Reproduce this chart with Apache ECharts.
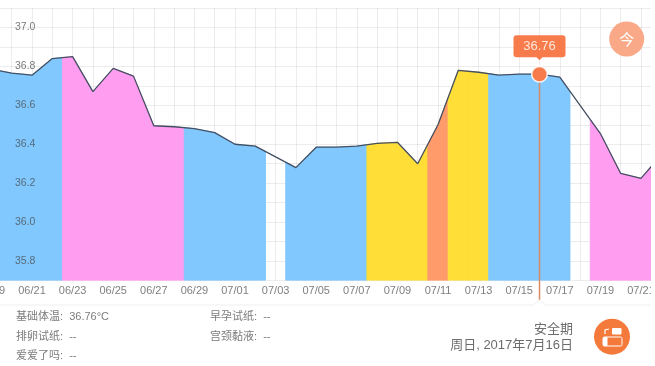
<!DOCTYPE html>
<html><head><meta charset="utf-8">
<script src="https://cdn.jsdelivr.net/npm/echarts@6/dist/echarts.min.js"></script>
<style>html,body{margin:0;padding:0;background:#fff;overflow:hidden}#c{width:651px;height:366px;overflow:hidden}</style>
</head><body><div id="c"></div>
<script>
const dates = ['06/19','06/20','06/21','06/22','06/23','06/24','06/25','06/26','06/27','06/28','06/29','06/30','07/01','07/02','07/03','07/04','07/05','07/06','07/07','07/08','07/09','07/10','07/11','07/12','07/13','07/14','07/15','07/16','07/17','07/18','07/19','07/20','07/21','07/22'];
const temps = [36.786,36.765,36.755,36.84,36.85,36.67,36.79,36.75,36.495,36.49,36.48,36.46,36.40,36.39,36.335,36.28,36.385,36.385,36.39,36.405,36.41,36.30,36.50,36.78,36.77,36.755,36.76,36.76,36.745,36.60,36.455,36.25,36.225,36.345];
const phases = ['b','b','b','b','p','p','p','p','p','p','b','b','b','b','n','b','b','b','b','y','y','y','o','y','y','b','b','b','b','n','p','p','p','p'];
const phaseColors = {b:'#80c8fe',p:'#ff9df0',y:'#ffde38',o:'#ff9a6b'};
const yTickLabels = ['35.8','36.0','36.2','36.4','36.6','36.8','37.0'];
const selectedIndex = 27;
const FONT = '"Liberation Sans","Noto Sans CJK SC",sans-serif';
const ORANGE = '#f87c4b';

const chart = echarts.init(document.getElementById('c'));
const bandData = dates.map((d,i)=>[i,temps[i],phases[i]]).filter(r=>r[2]!=='n');

function txt(x,y,text,opt){
  return {type:'text',x:x,y:y,silent:true,z:20,style:Object.assign({text:text,font:'11px '+FONT,fill:'#7c7c7c',textAlign:'left',textVerticalAlign:'middle'},opt||{})};
}

chart.setOption({
  animation:false,
  backgroundColor:'#fff',
  grid:{left:-8.6,width:669.9,top:8,height:272.5,containLabel:false,outerBoundsMode:'none'},
  xAxis:{type:'value',min:0,max:33,interval:1,z:0,
    axisLine:{show:false},axisTick:{show:false},
    splitLine:{show:true,lineStyle:{color:'rgba(110,110,110,0.13)',width:1}},
    axisLabel:{margin:5,fontSize:11,fontFamily:FONT,color:'#7f7f7f',showMinLabel:true,showMaxLabel:false,hideOverlap:false,
      formatter:v=>(v%2===0?dates[v]:'')}
  },
  yAxis:[
    {type:'value',min:35.7,max:37.1,interval:0.1,z:0,
      axisLine:{show:false},axisTick:{show:false},axisLabel:{show:false},
      splitLine:{show:true,lineStyle:{color:'rgba(110,110,110,0.13)',width:1}}},
    {type:'value',position:'left',min:35.7,max:37.1,interval:0.1,z:5,
      axisLine:{show:false},axisTick:{show:false},splitLine:{show:false},
      axisLabel:{inside:true,margin:23.6,fontSize:10.5,fontFamily:FONT,color:'rgba(70,70,70,0.72)',showMinLabel:false,showMaxLabel:false,
        formatter:v=>{const s=(+v).toFixed(1);return yTickLabels.includes(s)?s:'';}}}
  ],
  series:[
    {type:'custom',z:1,clip:true,data:bandData,
      encode:{x:0,y:1},
      renderItem:(p,api)=>{
        const i=api.value(0), v=api.value(1);
        const prev=i>0?temps[i-1]:v, next=i<temps.length-1?temps[i+1]:v;
        const pts=[
          api.coord([i-0.5,35.7]),
          api.coord([i-0.5,(prev+v)/2]),
          api.coord([i,v]),
          api.coord([i+0.5,(v+next)/2]),
          api.coord([i+0.5,35.7])
        ];
        return {type:'polygon',shape:{points:pts},style:{fill:phaseColors[phases[i]],stroke:phaseColors[phases[i]],lineWidth:1}};
      }
    },
    {type:'line',z:6,data:dates.map((d,i)=>[i,temps[i]]),symbol:'none',smooth:false,
      lineStyle:{color:'#444f62',width:1.3},silent:true},
    {type:'custom',z:8,clip:false,data:[[selectedIndex,temps[selectedIndex]]],
      encode:{x:0,y:1},
      renderItem:(p,api)=>{
        const c=api.coord([api.value(0),api.value(1)]);
        const b=api.coord([api.value(0),35.7]);
        const x=c[0],y=c[1];
        return {type:'group',children:[
          {type:'line',shape:{x1:x,y1:y,x2:x,y2:b[1]+19.5},style:{stroke:'#d98a66',lineWidth:1.5}},
          {type:'circle',shape:{cx:x,cy:y,r:7.8},style:{fill:ORANGE,stroke:'rgba(255,255,255,0.85)',lineWidth:1.5}},
          {type:'rect',shape:{x:x-26,y:y-39,width:52,height:22,r:3},style:{fill:ORANGE}},
          {type:'polygon',shape:{points:[[x-3.5,y-17.5],[x+3.5,y-17.5],[x,y-14]]},style:{fill:ORANGE}},
          {type:'text',x:x,y:y-28,style:{text:temps[selectedIndex].toFixed(2),font:'13px '+FONT,fill:'#ffe6da',textAlign:'center',textVerticalAlign:'middle'}}
        ]};
      }
    }
  ],
  graphic:{elements:[
    {type:'polyline',silent:true,z:15,shape:{points:[[0,305],[533,305],[539.5,300],[546,305],[651,305]]},style:{stroke:'#efefef',fill:null,lineWidth:1}},
    {type:'circle',silent:true,z:15,shape:{cx:626.7,cy:39,r:17.5},style:{fill:'#f9a988'}},
    txt(626.7,39,'今',{font:'15px "Noto Sans CJK SC"',fill:'#fff',textAlign:'center'}),
    txt(16,317,'基础体温:  36.76°C'),
    txt(16,336.5,'排卵试纸:  --'),
    txt(16,356,'爱爱了吗:  --'),
    txt(210,317,'早孕试纸:  --'),
    txt(210,336.5,'宫颈黏液:  --'),
    txt(573,329,'安全期',{font:'13px '+FONT,fill:'#6c6c6c',textAlign:'right'}),
    txt(573,345.5,'周日, 2017年7月16日',{font:'13px '+FONT,fill:'#6c6c6c',textAlign:'right'}),
    {type:'circle',silent:true,z:15,shape:{cx:612,cy:336.7,r:18},style:{fill:'#f47a3c'}},
    {type:'rect',silent:true,z:16,shape:{x:612,y:328,width:9.5,height:6.5,r:1},style:{fill:'#fff'}},
    {type:'rect',silent:true,z:16,shape:{x:603,y:337,width:19,height:9,r:1.5},style:{fill:'none',stroke:'#fff',lineWidth:1}},
    {type:'rect',silent:true,z:16,shape:{x:603,y:337,width:4.5,height:9,r:1},style:{fill:'#fff'}},
    {type:'polyline',silent:true,z:16,shape:{points:[[605,334],[605,330],[609,329]]},style:{stroke:'#fff',fill:null,lineWidth:1.2}}
  ]}
});
</script></body></html>
